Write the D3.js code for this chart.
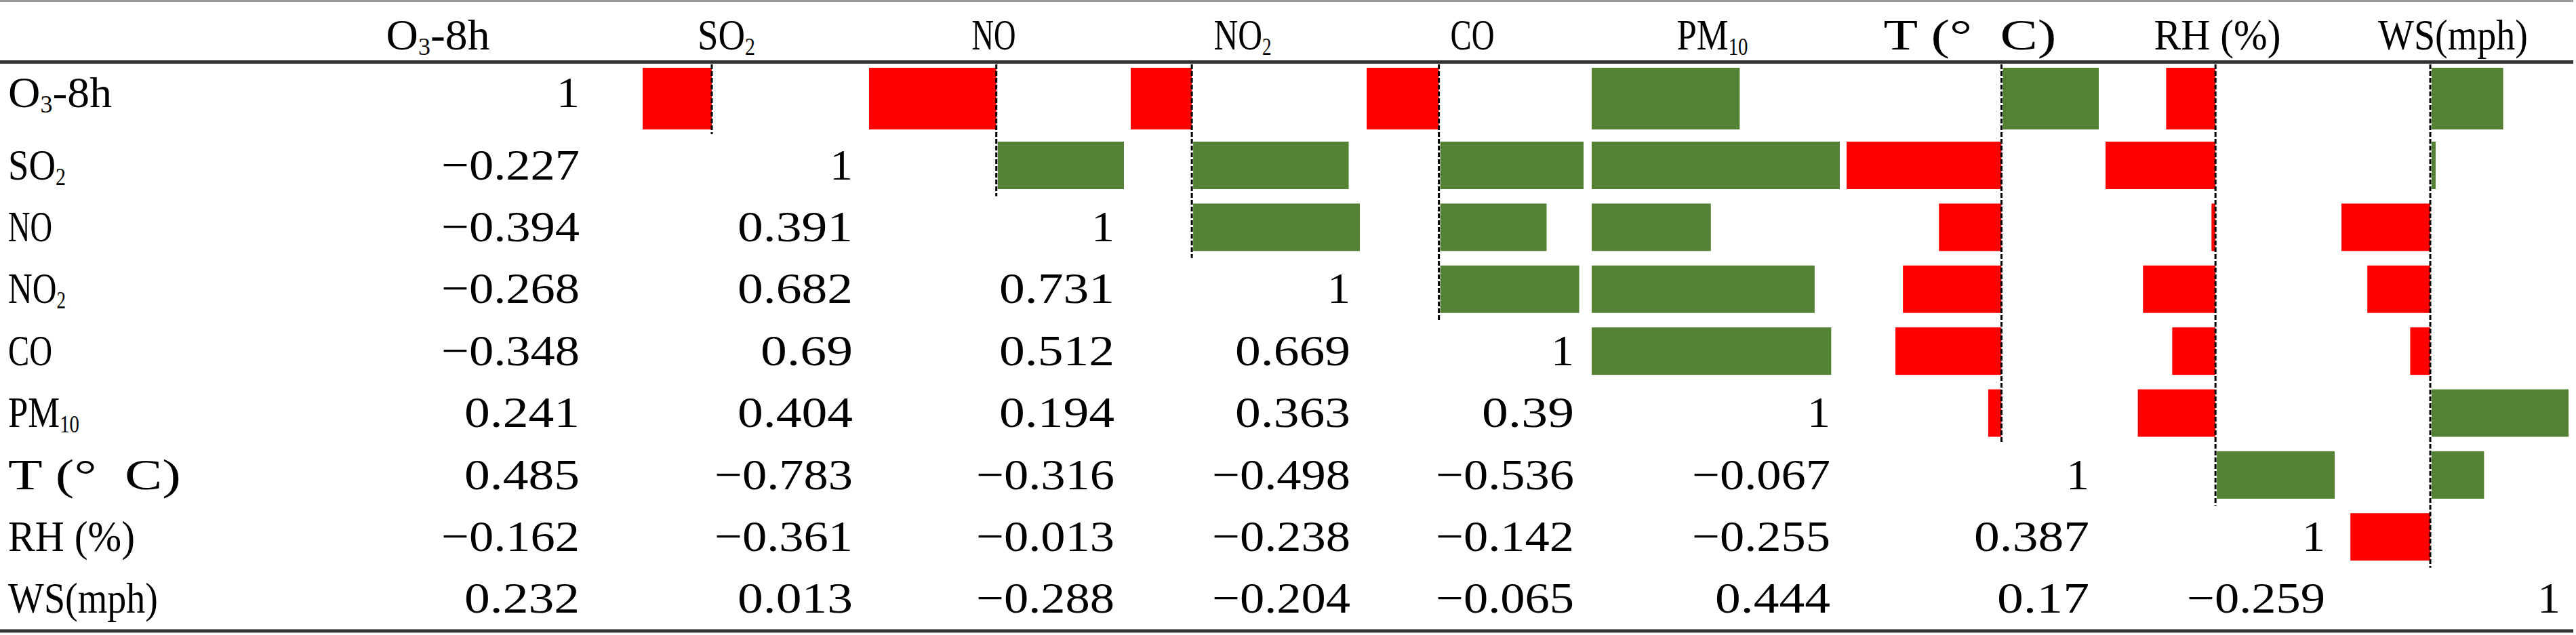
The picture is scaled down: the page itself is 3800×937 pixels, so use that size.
<!DOCTYPE html>
<html>
<head>
<meta charset="utf-8">
<script src="https://cdn.jsdelivr.net/npm/d3@7"></script>
<style>
body { margin: 0; background: #fff; }
text { font-family: "Liberation Serif", serif; fill: #000; white-space: pre; }
</style>
</head>
<body>
<script>
// variable names, split so the subscripts can be drawn smaller
var nameMain = ["O", "SO", "NO", "NO", "CO", "PM", "T (°  C)", "RH (%)", "WS(mph)"];
var nameSub  = ["3", "2", "", "2", "", "10", "", "", ""];
var nameTail = ["-8h", "", "", "", "", "", "", "", ""];

// lower triangle of the correlation matrix (row i, columns 0..i)
var corr = [
    [1],
    [-0.227, 1],
    [-0.394, 0.391, 1],
    [-0.268, 0.682, 0.731, 1],
    [-0.348, 0.69, 0.512, 0.669, 1],
    [0.241, 0.404, 0.194, 0.363, 0.39, 1],
    [0.485, -0.783, -0.316, -0.498, -0.536, -0.067, 1],
    [-0.162, -0.361, -0.013, -0.238, -0.142, -0.255, 0.387, 1],
    [0.232, 0.013, -0.288, -0.204, -0.065, 0.444, 0.17, -0.259, 1]
];

var width = 3800, height = 937;
var fs = 64, subFs = 35, cw = 34, subCw = 20;

// column edges of the table (one column per variable)
var colEdges = [422, 870, 1273, 1659, 2007, 2337, 2715, 3097, 3445, 3792];
// inner padding of the data bars in each column [left, right]
var barPad = [[9, 3], [78, 223], [9, 3], [9, 3], [9, 3], [9, 3], [9, 3], [9, 3], [9, 5]];

var svg = d3.select("body").append("svg")
    .attr("width", width)
    .attr("height", height);

var rowBand = d3.scaleBand().domain(d3.range(1, 9)).range([198, 929]);
function rowTop(i) { return i == 0 ? 95 : rowBand(i); }
function rowBottom(i) { return i == 0 ? 198 : rowBand(i) + rowBand.bandwidth(); }
function baseY(i) { return i == 0 ? 158 : rowBand(i) + rowBand.bandwidth() / 2 + 21; }

// one scale per column, like excel data bars
var xs = nameMain.map(function (n, j) {
    var vals = corr[j].slice(0, j);
    if (!vals.length) return null;
    var lo = Math.min(0, d3.min(vals)), hi = Math.max(0, d3.max(vals));
    return d3.scaleLinear().domain([lo, hi])
        .range([colEdges[j] + barPad[j][0], colEdges[j + 1] - barPad[j][1]]);
});

// half-width cells like the original font; a closing bracket only fills half its cell
function labelLength(k) {
    var full = nameMain[k] + nameTail[k];
    var w = full.length * cw + nameSub[k].length * subCw;
    return w - (full.slice(-1) == ")" ? 17 : 3);
}

function addLabel(g, k, anchor) {
    var t = g.append("text")
        .attr("font-size", fs)
        .attr("text-anchor", anchor);
    t.append("tspan").text(nameMain[k]);
    if (nameSub[k]) t.append("tspan").attr("font-size", subFs).attr("dy", 8).text(nameSub[k]);
    if (nameTail[k]) t.append("tspan").attr("dy", nameSub[k] ? -8 : 0).text(nameTail[k]);
    var natural = t.node().getComputedTextLength();
    t.attr("transform", "scale(" + (labelLength(k) / natural) + ",1)");
}

// rules
svg.append("line").attr("x1", 0).attr("x2", 3796).attr("y1", 1.5).attr("y2", 1.5)
    .attr("stroke", "#999").attr("stroke-width", 3);
svg.append("line").attr("x1", 0).attr("x2", 3796).attr("y1", 91.5).attr("y2", 91.5)
    .attr("stroke", "#333").attr("stroke-width", 5);
svg.append("line").attr("x1", 0).attr("x2", 3796).attr("y1", 931).attr("y2", 931)
    .attr("stroke", "#333").attr("stroke-width", 5);

// header
nameMain.forEach(function (n, j) {
    var g = svg.append("g")
        .attr("transform", "translate(" + ((colEdges[j] + colEdges[j + 1]) / 2) + ",73)");
    addLabel(g, j, "middle");
});

// row labels
nameMain.forEach(function (n, i) {
    var g = svg.append("g")
        .attr("transform", "translate(12," + baseY(i) + ")");
    addLabel(g, i, "start");
});

// cells
var bars = [], nums = [];
for (var i = 0; i < 9; i++) {
    for (var j = 0; j < 9; j++) {
        if (j > i) bars.push({row: i, col: j, v: corr[j][i]});
        else nums.push({row: i, col: j, v: corr[i][j]});
    }
}

svg.selectAll(".bar")
    .data(bars)
    .enter().append("rect")
    .attr("class", "bar")
    .attr("x", function (d) {
        var x = xs[d.col];
        return d.v < 0 ? x(d.v) : x(0) + 2;
    })
    .attr("width", function (d) {
        var x = xs[d.col];
        return Math.abs(x(d.v) - x(0));
    })
    .attr("y", function (d) { return d.row == 0 ? 100 : rowTop(d.row) + 11; })
    .attr("height", function (d) { return d.row == 0 ? 91 : 70; })
    .attr("fill", function (d) { return d.v < 0 ? "#ff0000" : "#548235"; });

// dashed axis for columns that have negative bars
xs.forEach(function (x, j) {
    if (!x || x.domain()[0] >= 0) return;
    svg.append("line")
        .attr("x1", x(0)).attr("x2", x(0))
        .attr("y1", 95).attr("y2", rowBottom(j - 1))
        .attr("stroke", "#000")
        .attr("stroke-width", 3)
        .attr("stroke-dasharray", "7,3");
});

svg.selectAll(".num")
    .data(nums)
    .enter().append("text")
    .attr("class", "num")
    .attr("x", function (d) { return colEdges[d.col + 1] - 15; })
    .attr("y", function (d) { return baseY(d.row); })
    .attr("font-size", fs)
    .attr("text-anchor", "end")
    .attr("textLength", function (d) { return String(d.v).length * cw; })
    .attr("lengthAdjust", "spacingAndGlyphs")
    .text(function (d) { return String(d.v).replace("-", "\u2212"); });
</script>
</body>
</html>
